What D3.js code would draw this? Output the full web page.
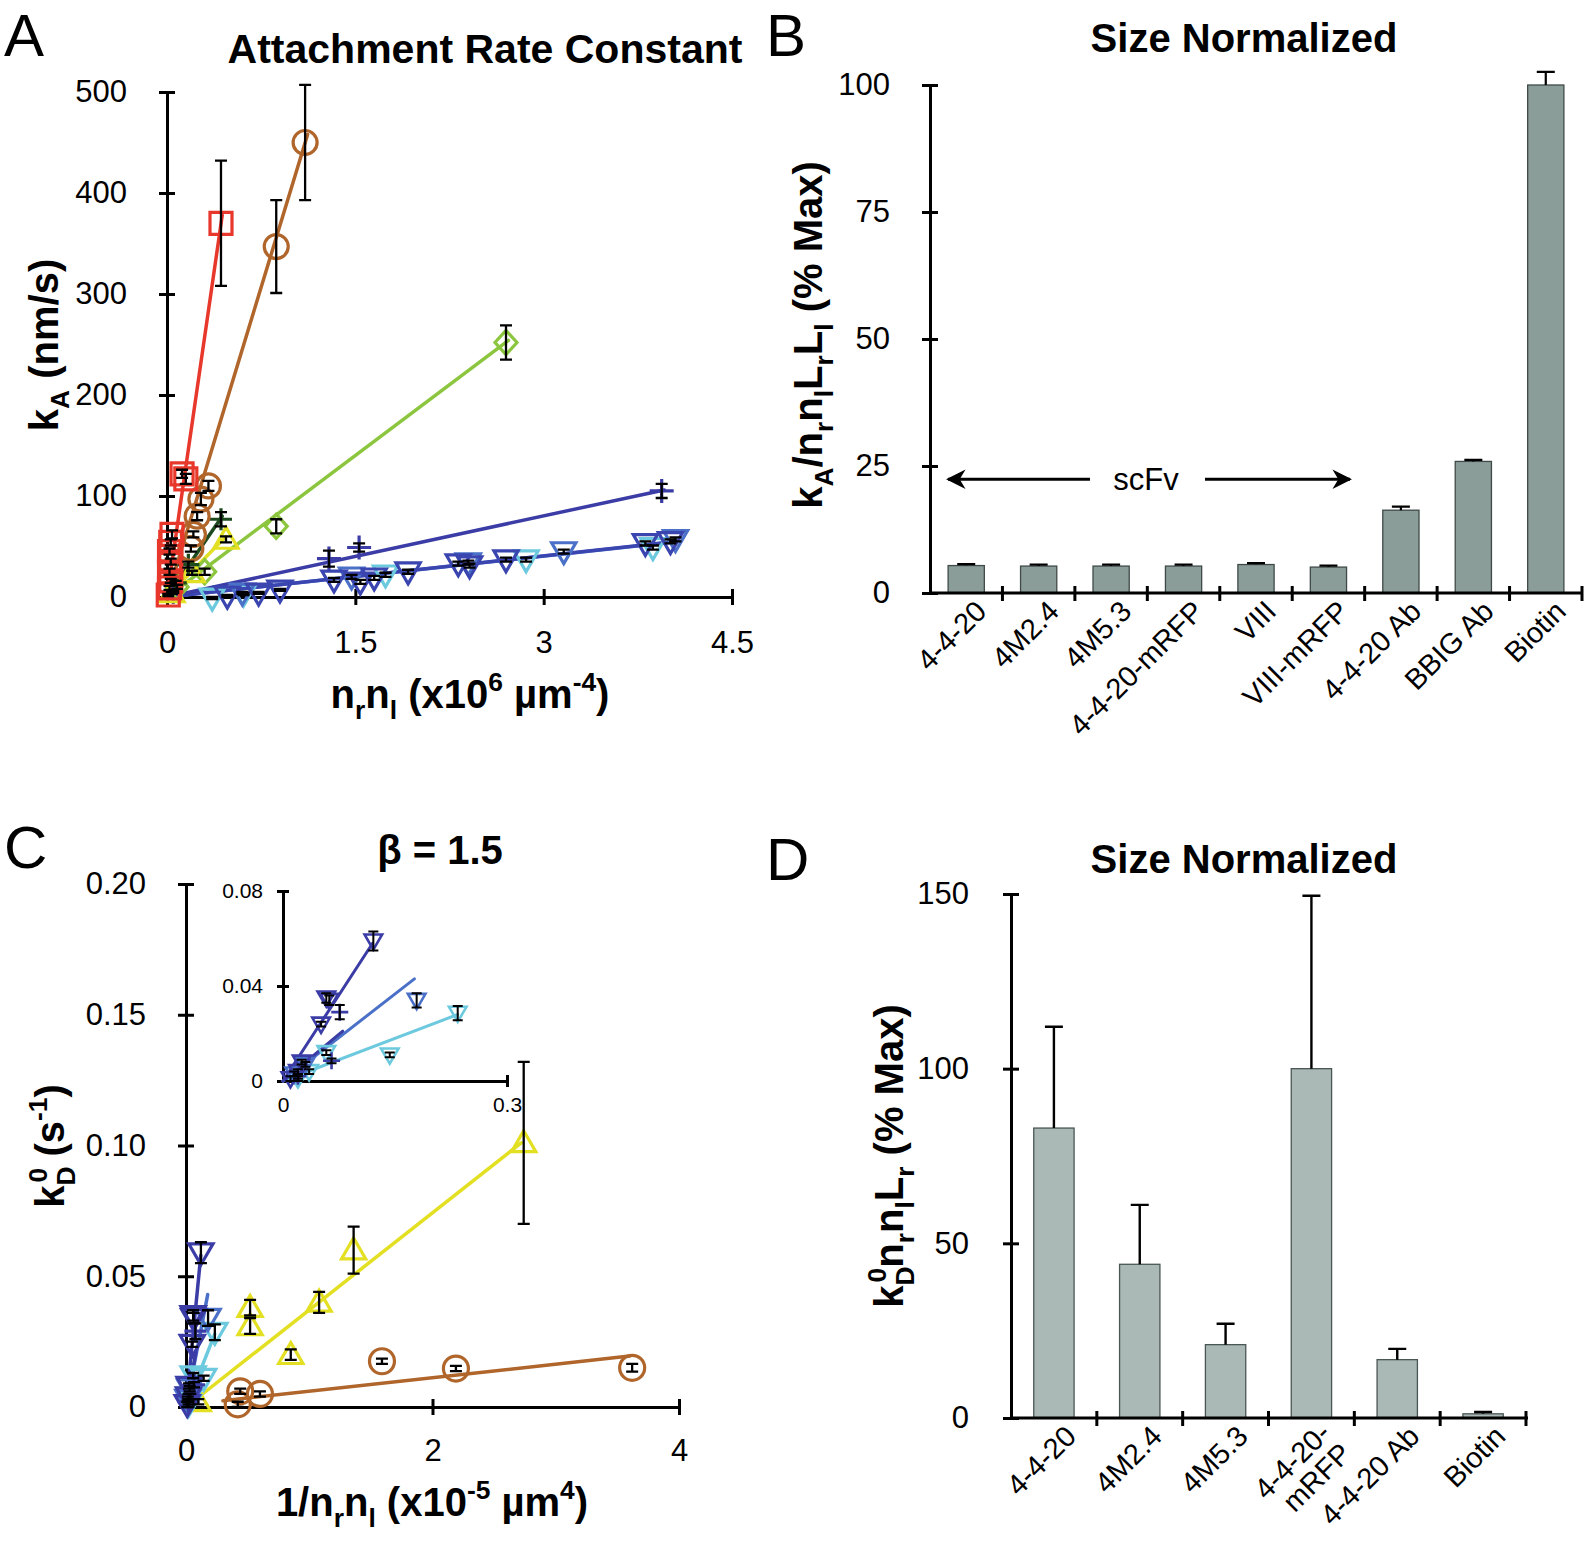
<!DOCTYPE html>
<html><head><meta charset="utf-8">
<script src="https://cdn.jsdelivr.net/npm/d3@7"></script>
<style>
body{margin:0;background:#fff;}
svg{display:block;font-family:"Liberation Sans",Arial,Helvetica,sans-serif;}
</style></head><body>
<svg id="c" width="1590" height="1553"></svg>
<script>
// ---------------- Panel A data: [x (x10^6 um^-4), kA (nm/s), error] ----------------
const aXTicks = [0, 1.5, 3, 4.5];
const aYTicks = [0, 100, 200, 300, 400, 500];
const aRed = [[0.01,2,1],[0.02,9,2],[0.03,16,2],[0.02,25,3],[0.03,35,3],[0.02,45,3],[0.03,54,3],[0.04,62,4],[0.12,122,4],[0.15,117,5],[0.43,370,62]];
const aBrown = [[0.19,48,3],[0.21,62,3],[0.24,80,4],[0.27,97,6],[0.33,110,5],[0.87,347,46],[1.1,450,57]];
const aLime = [[0.08,10,2],[0.3,25,3],[0.87,70,7],[2.7,252,17]];
const aDkGreen = [[0.07,14,2],[0.17,32,3],[0.43,77,7]];
const aYellow = [[0.04,4,1],[0.2,24,2],[0.47,57,3]];
const aIndigoPlus = [[0.05,5,1],[1.29,38,8],[1.53,49,4],[3.94,105,7]];
const aBlueTri = [[0.48,1,1],[0.73,4,1],[0.9,7,1],[1.33,17,2],[1.54,15,2],[1.65,19,2],[1.92,25,2],[2.32,33,2],[2.41,31,2],[2.7,37,2],[3.81,53,2],[4.01,55,2]];
const aMidTri = [[0.6,4,1],[1.47,20,2],[2.4,34,2],[3.16,45,2],[4.05,57,2]];
const aCyanTri = [[0.36,-1,1],[0.61,3,1],[1.74,22,2],[2.86,37,2],[3.87,49,2]];
// fitted lines [x0, y0, x1, y1]
const aFitRed = [0,0,0.44,378];
const aFitBrown = [0,0,1.12,458];
const aFitLime = [0,0,2.72,254];
const aFitDkGreen = [0,0,0.44,80];
const aFitYellow = [0,0,0.47,60];
const aFitIndigo = [0,0,3.96,106];
const aFitBlue = [0,0,4.05,55];
const aFitMid = [0,0,4.0,54];

// ---------------- Panel B data ----------------
const bCats = ["4-4-20","4M2.4","4M5.3","4-4-20-mRFP","VIII","VIII-mRFP","4-4-20 Ab","BBIG Ab","Biotin"];
const bVals = [5.4,5.3,5.3,5.3,5.6,5.1,16.3,25.9,100];
const bErr  = [0.3,0.3,0.3,0.3,0.3,0.3,0.7,0.3,2.6];
const bYTicks = [0,25,50,75,100];

// ---------------- Panel C data: [1/nrnl (x10^-5 um^4), kD0 (s^-1), error] ----------------
const cXTicks = [0,2,4];
const cYTicks = [0,0.05,0.10,0.15,0.20];
const cInsetYTicks = [0,0.04,0.08];
const cInsetXTicks = [0,0.3];
const cYellow = [[0.1,0.002,0.001],[0.52,0.038,0.003],[0.52,0.031,0.003],[0.85,0.020,0.002],[1.08,0.040,0.004],[1.36,0.060,0.009],[2.74,0.101,0.031]];
const cBrown = [[0.42,0.001,0.001],[0.44,0.006,0.001],[0.6,0.005,0.001],[1.59,0.0175,0.001],[2.19,0.0147,0.001],[3.62,0.015,0.0015]];
const cDkBlueTri = [[0.01,0.001,0.001],[0.02,0.004,0.001],[0.025,0.008,0.001],[0.051,0.024,0.001],[0.058,0.035,0.002],[0.062,0.034,0.002],[0.121,0.059,0.004]];
const cMidTri = [[0.015,0.003,0.001],[0.03,0.007,0.001],[0.179,0.034,0.003]];
const cIndigoPlus = [[0.02,0.002,0.001],[0.065,0.0085,0.001],[0.076,0.029,0.003]];
const cCyanTri = [[0.02,0.001,0.001],[0.035,0.004,0.001],[0.058,0.012,0.001],[0.143,0.011,0.001],[0.234,0.0286,0.003]];
const cFitYellow = [0,0,2.72,0.101];
const cFitBrown = [0.3,0.0024,3.6,0.0195];
const cFitDkBlue = [0,0,0.12,0.058];
const cFitMid = [0,0,0.176,0.043];
const cFitIndigo = [0,0,0.08,0.021];
const cFitCyan = [0,0,0.234,0.028];

// ---------------- Panel D data ----------------
const dCats = ["4-4-20","4M2.4","4M5.3","4-4-20-mRFP","4-4-20 Ab","Biotin"];
const dLabelLines = [["4-4-20"],["4M2.4"],["4M5.3"],["4-4-20-","mRFP"],["4-4-20 Ab"],["Biotin"]];
const dVals = [83,44,21,100,16.7,1.2];
const dErr  = [29,17,6,49.5,3.1,0.5];
const dYTicks = [0,50,100,150];

// ---------------- colours ----------------
const COL = {red:"#e8372b", brown:"#b0652a", lime:"#8cc63f", dkgreen:"#1d4a1f", yellow:"#e3df22",
  indigo:"#3b3ca6", blue:"#3a45b0", mid:"#4a70c8", cyan:"#6cc9de"};

const svg = d3.select("#c");
const FONT = '"Liberation Sans", Arial, Helvetica, sans-serif';

// parts: [text, mode, dx]
function rich(sel, parts, fs){
  let cur = 0;
  parts.forEach(([t, m, dx]) => {
    const target = m === "sub" ? 0.28*fs : (m === "sup" ? -0.42*fs : 0);
    const ts = sel.append("tspan").attr("dy", target - cur).attr("font-size", m ? fs*0.66 : fs).text(t);
    if (dx) ts.attr("dx", dx);
    cur = target;
  });
}

function styleAxis(g, fs){
  g.select(".domain").attr("stroke","#000").attr("stroke-width",3);
  g.selectAll(".tick line").attr("stroke","#000").attr("stroke-width",3);
  g.selectAll(".tick text").attr("font-size",fs).attr("font-family",FONT).attr("fill","#000");
}
function yAxis(g, scale, x, ticks, fmt, fs, tick, pad){
  const a = g.append("g").attr("transform",`translate(${x},0)`)
    .call(d3.axisLeft(scale).tickValues(ticks).tickFormat(fmt).tickSizeOuter(0).tickSizeInner(tick).tickPadding(pad));
  styleAxis(a, fs);
  a.selectAll(".tick line").attr("x1", tick).attr("x2", -tick);
  return a;
}
function xAxis(g, scale, y, ticks, fmt, fs, tick, pad){
  const a = g.append("g").attr("transform",`translate(0,${y})`)
    .call(d3.axisBottom(scale).tickValues(ticks).tickFormat(fmt).tickSizeOuter(0).tickSizeInner(tick).tickPadding(pad));
  styleAxis(a, fs);
  a.selectAll(".tick line").attr("y1", -tick).attr("y2", tick);
  return a;
}

function markerPath(type, cx, cy, s){
  const h = s/2;
  switch(type){
    case "square": return `M${cx-h},${cy-h}H${cx+h}V${cy+h}H${cx-h}Z`;
    case "diamond": return `M${cx},${cy-h*1.1}L${cx+h},${cy}L${cx},${cy+h*1.1}L${cx-h},${cy}Z`;
    case "plus": return `M${cx-h},${cy}H${cx+h}M${cx},${cy-h}V${cy+h}`;
    case "triUp": return `M${cx},${cy-h*1.1}L${cx+h*1.1},${cy+h*0.8}L${cx-h*1.1},${cy+h*0.8}Z`;
    case "triDown": return `M${cx},${cy+h*1.1}L${cx+h*1.1},${cy-h*0.8}L${cx-h*1.1},${cy-h*0.8}Z`;
  }
}
function series(g, data, x, y, type, color, s, sw){
  data.forEach(d => {
    if(type === "circle"){
      g.append("circle").attr("cx",x(d[0])).attr("cy",y(d[1])).attr("r",s/2)
        .attr("fill","none").attr("stroke",color).attr("stroke-width",sw);
    } else {
      g.append("path").attr("d",markerPath(type,x(d[0]),y(d[1]),s))
        .attr("fill","none").attr("stroke",color).attr("stroke-width",sw).attr("stroke-linejoin","miter");
    }
  });
}
function errBars(g, data, x, y, cap, sw){
  data.forEach(d => {
    const cx = x(d[0]), y1 = y(d[1]-d[2]), y2 = y(d[1]+d[2]);
    g.append("path").attr("d",`M${cx},${y1}V${y2}M${cx-cap/2},${y1}H${cx+cap/2}M${cx-cap/2},${y2}H${cx+cap/2}`)
      .attr("stroke","#000").attr("stroke-width",sw).attr("fill","none");
  });
}
function fitLine(g, f, x, y, color, sw){
  g.append("line").attr("x1",x(f[0])).attr("y1",y(f[1])).attr("x2",x(f[2])).attr("y2",y(f[3]))
    .attr("stroke",color).attr("stroke-width",sw).attr("stroke-linecap","round");
}
function panelLetter(t, x, y){
  svg.append("text").attr("x",x).attr("y",y).attr("font-size",60).attr("font-family",FONT).text(t);
}
function title(t, x, y, fs){
  svg.append("text").attr("x",x).attr("y",y).attr("text-anchor","middle").attr("font-size",fs || 40)
    .attr("font-weight","bold").attr("font-family",FONT).text(t);
}

// =================== Panel A ===================
{
  const g = svg.append("g");
  const x = d3.scaleLinear([0,4.5],[167,732]);
  const y = d3.scaleLinear([0,500],[597,92]);
  panelLetter("A", 4, 56);
  title("Attachment Rate Constant", 485, 63, 41);
  yAxis(g, y, 167, aYTicks, d3.format("d"), 31, 8, 32);
  xAxis(g, x, 597, aXTicks, d => d, 31, 8, 26);
  const lw = 3.5;
  fitLine(g, aFitMid, x, y, COL.mid, lw);
  fitLine(g, aFitBlue, x, y, COL.blue, lw);
  fitLine(g, aFitIndigo, x, y, COL.indigo, lw);
  fitLine(g, aFitLime, x, y, COL.lime, lw);
  fitLine(g, aFitYellow, x, y, COL.yellow, lw);
  fitLine(g, aFitDkGreen, x, y, COL.dkgreen, lw);
  fitLine(g, aFitBrown, x, y, COL.brown, lw);
  fitLine(g, aFitRed, x, y, COL.red, lw);
  const S = 22, sw = 3.2;
  series(g, aCyanTri, x, y, "triDown", COL.cyan, S, sw);
  series(g, aMidTri, x, y, "triDown", COL.mid, S, sw);
  series(g, aBlueTri, x, y, "triDown", COL.blue, S, sw);
  series(g, aIndigoPlus, x, y, "plus", COL.indigo, 24, sw);
  series(g, aLime, x, y, "diamond", COL.lime, S, sw);
  series(g, aYellow, x, y, "triUp", COL.yellow, S, sw);
  series(g, aDkGreen, x, y, "plus", COL.dkgreen, 22, sw);
  series(g, aBrown, x, y, "circle", COL.brown, 24, sw);
  series(g, aRed, x, y, "square", COL.red, S, sw);
  [aCyanTri,aMidTri,aBlueTri,aIndigoPlus,aLime,aYellow,aDkGreen,aBrown,aRed].forEach(s => errBars(g, s, x, y, 12, 2.3));
  // axis titles
  const yl = svg.append("text").attr("transform","translate(58,345) rotate(-90)").attr("text-anchor","middle")
    .attr("font-weight","bold").attr("font-family",FONT);
  rich(yl, [["k",""],["A","sub"],[" (nm/s)",""]], 40);
  const xl = svg.append("text").attr("x",470).attr("y",708).attr("text-anchor","middle")
    .attr("font-weight","bold").attr("font-family",FONT);
  rich(xl, [["n",""],["r","sub"],["n",""],["l","sub"],[" (x10",""],["6","sup"],[" \u00b5m",""],["-4","sup"],[")",""]], 40);
}

// =================== Panel B ===================
{
  const g = svg.append("g");
  const x = d3.scaleBand(bCats,[930,1582]).paddingInner(0.5).paddingOuter(0.25);
  const y = d3.scaleLinear([0,100],[593,85]);
  panelLetter("B", 766, 56);
  title("Size Normalized", 1244, 52);
  g.selectAll("rect.bar").data(bCats).join("rect").attr("class","bar")
    .attr("x", d => x(d)).attr("width", x.bandwidth())
    .attr("y", (d,i) => y(bVals[i])).attr("height", (d,i) => y(0) - y(bVals[i]))
    .attr("fill","#8b9d99").attr("stroke","#3f4a48").attr("stroke-width",1.3);
  bCats.forEach((c,i) => {
    const cx = x(c) + x.bandwidth()/2, top = y(bVals[i]), e = y(bVals[i]+bErr[i]);
    g.append("path").attr("d",`M${cx},${top}V${e}M${cx-9},${e}H${cx+9}`).attr("stroke","#000").attr("stroke-width",2.2).attr("fill","none");
  });
  yAxis(g, y, 930, bYTicks, d3.format("d"), 31, 8, 32);
  // x axis with boundary ticks
  g.append("line").attr("x1",930).attr("x2",1582).attr("y1",y(0)).attr("y2",y(0)).attr("stroke","#000").attr("stroke-width",3);
  bCats.forEach(c => {
    const bx = x(c) + x.bandwidth()/2 + x.step()/2;
    g.append("line").attr("x1",bx).attr("x2",bx).attr("y1",y(0)-7).attr("y2",y(0)+8).attr("stroke","#000").attr("stroke-width",3);
  });
  g.selectAll("text.cat").data(bCats).join("text").attr("class","cat")
    .attr("transform", d => `translate(${x(d)+x.bandwidth()/2+22},${y(0)+20}) rotate(-45)`)
    .attr("text-anchor","end").attr("font-size",29).attr("font-family",FONT).text(d => d);
  // scFv annotation
  const ay = y(22.4);
  const defs = svg.append("defs");
  defs.append("marker").attr("id","ah").attr("viewBox","0 0 10 10").attr("refX",9).attr("refY",5)
    .attr("markerWidth",6.5).attr("markerHeight",6.5).attr("orient","auto-start-reverse")
    .append("path").attr("d","M0,0L10,5L0,10L3,5Z").attr("fill","#000");
  g.append("line").attr("x1",1090).attr("x2",948).attr("y1",ay).attr("y2",ay).attr("stroke","#000").attr("stroke-width",3).attr("marker-end","url(#ah)");
  g.append("line").attr("x1",1205).attr("x2",1350).attr("y1",ay).attr("y2",ay).attr("stroke","#000").attr("stroke-width",3).attr("marker-end","url(#ah)");
  g.append("text").attr("x",1146).attr("y",ay+11).attr("text-anchor","middle").attr("font-size",31).attr("font-family",FONT).text("scFv");
  const yl = svg.append("text").attr("transform","translate(822,335) rotate(-90)").attr("text-anchor","middle")
    .attr("font-weight","bold").attr("font-family",FONT);
  rich(yl, [["k",""],["A","sub"],["/n",""],["r","sub"],["n",""],["l","sub"],["L",""],["r","sub"],["L",""],["l","sub"],[" (% Max)",""]], 40);
}

// =================== Panel C ===================
{
  const g = svg.append("g");
  const x = d3.scaleLinear([0,4],[186,679]);
  const y = d3.scaleLinear([0,0.2],[1407,884]);
  panelLetter("C", 4, 868);
  title("\u03b2 = 1.5", 440, 864);
  yAxis(g, y, 186, cYTicks, d => d === 0 ? "0" : d3.format(".2f")(d), 31, 8, 32);
  xAxis(g, x, 1407, cXTicks, d => d, 31, 8, 24);
  const lw = 3.5;
  fitLine(g, cFitBrown, x, y, COL.brown, lw);
  fitLine(g, cFitYellow, x, y, COL.yellow, lw);
  fitLine(g, cFitCyan, x, y, COL.cyan, lw);
  fitLine(g, cFitMid, x, y, COL.mid, lw);
  fitLine(g, cFitIndigo, x, y, COL.indigo, lw);
  fitLine(g, cFitDkBlue, x, y, COL.indigo, lw);
  const S = 22, sw = 3.2;
  series(g, cBrown, x, y, "circle", COL.brown, 25, sw);
  series(g, cYellow, x, y, "triUp", COL.yellow, S, sw);
  series(g, cCyanTri, x, y, "triDown", COL.cyan, S, sw);
  series(g, cMidTri, x, y, "triDown", COL.mid, S, sw);
  series(g, cIndigoPlus, x, y, "plus", COL.indigo, 22, sw);
  series(g, cDkBlueTri, x, y, "triDown", COL.indigo, S, sw);
  [cBrown,cYellow,cCyanTri,cMidTri,cIndigoPlus,cDkBlueTri].forEach(s => errBars(g, s, x, y, 12, 2.3));

  // inset
  const gi = svg.append("g");
  const xi = d3.scaleLinear([0,0.3],[283,507]);
  const yi = d3.scaleLinear([0,0.08],[1081,891]);
  const ay = yAxis(gi, yi, 283, cInsetYTicks, d => d === 0 ? "0" : d3.format(".2f")(d), 21, 6, 14);
  const ax = xAxis(gi, xi, 1081, cInsetXTicks, d => d === 0 ? "0" : d, 21, 6, 10);
  ax.selectAll(".tick").filter(d => d === 0).select("line").remove();
  ay.selectAll(".tick").filter(d => d === 0).select("line").attr("x1",0);
  const lwi = 3;
  fitLine(gi, cFitCyan, xi, yi, COL.cyan, lwi);
  fitLine(gi, cFitMid, xi, yi, COL.mid, lwi);
  fitLine(gi, cFitIndigo, xi, yi, COL.indigo, lwi);
  fitLine(gi, cFitDkBlue, xi, yi, COL.indigo, lwi);
  const Si = 16, swi = 2.6;
  series(gi, cCyanTri, xi, yi, "triDown", COL.cyan, Si, swi);
  series(gi, cMidTri, xi, yi, "triDown", COL.mid, Si, swi);
  series(gi, cIndigoPlus, xi, yi, "plus", COL.indigo, 17, swi);
  series(gi, cDkBlueTri, xi, yi, "triDown", COL.indigo, Si, swi);
  [cCyanTri,cMidTri,cIndigoPlus,cDkBlueTri].forEach(s => errBars(gi, s, xi, yi, 10, 2));

  const yl = svg.append("text").attr("transform","translate(64,1146) rotate(-90)").attr("text-anchor","middle")
    .attr("font-weight","bold").attr("font-family",FONT);
  rich(yl, [["k",""],["D","sub"],["0","sup",-16],[" (s",""],["-1","sup"],[")",""]], 40);
  const xl = svg.append("text").attr("x",432).attr("y",1516).attr("text-anchor","middle")
    .attr("font-weight","bold").attr("font-family",FONT);
  rich(xl, [["1/n",""],["r","sub"],["n",""],["l","sub"],[" (x10",""],["-5","sup"],[" \u00b5m",""],["4","sup"],[")",""]], 40);
}

// =================== Panel D ===================
{
  const g = svg.append("g");
  const x = d3.scaleBand(dCats,[1011,1526]).paddingInner(0.53).paddingOuter(0.265);
  const y = d3.scaleLinear([0,150],[1418,894]);
  panelLetter("D", 766, 880);
  title("Size Normalized", 1244, 873);
  g.selectAll("rect.bar").data(dCats).join("rect").attr("class","bar")
    .attr("x", d => x(d)).attr("width", x.bandwidth())
    .attr("y", (d,i) => y(dVals[i])).attr("height", (d,i) => y(0) - y(dVals[i]))
    .attr("fill","#aab9b6").attr("stroke","#4a5654").attr("stroke-width",1.3);
  dCats.forEach((c,i) => {
    const cx = x(c) + x.bandwidth()/2, top = y(dVals[i]), e = y(dVals[i]+dErr[i]);
    g.append("path").attr("d",`M${cx},${top}V${e}M${cx-9},${e}H${cx+9}`).attr("stroke","#000").attr("stroke-width",2.4).attr("fill","none");
  });
  yAxis(g, y, 1011, dYTicks, d3.format("d"), 31, 8, 34);
  g.append("line").attr("x1",1011).attr("x2",1528).attr("y1",y(0)).attr("y2",y(0)).attr("stroke","#000").attr("stroke-width",3);
  dCats.forEach(c => {
    const bx = x(c) + x.bandwidth()/2 + x.step()/2;
    g.append("line").attr("x1",bx).attr("x2",bx).attr("y1",y(0)-7).attr("y2",y(0)+8).attr("stroke","#000").attr("stroke-width",3);
  });
  dCats.forEach((c,i) => {
    const lines = dLabelLines[i];
    const t = g.append("text")
      .attr("transform", `translate(${x(c)+x.bandwidth()/2+24},${y(0)+20}) rotate(-45)`)
      .attr("text-anchor","end").attr("font-size",29).attr("font-family",FONT);
    lines.forEach((ln,j) => {
      t.append("tspan").attr("x",0).attr("dy", j === 0 ? (lines.length > 1 ? "-0.15em" : "0") : "1.0em").text(ln);
    });
  });
  const yl = svg.append("text").attr("transform","translate(903,1156) rotate(-90)").attr("text-anchor","middle")
    .attr("font-weight","bold").attr("font-family",FONT);
  rich(yl, [["k",""],["D","sub"],["0","sup",-16],["n",""],["r","sub"],["n",""],["l","sub"],["L",""],["r","sub"],[" (% Max)",""]], 40);
}
</script>
</body></html>
